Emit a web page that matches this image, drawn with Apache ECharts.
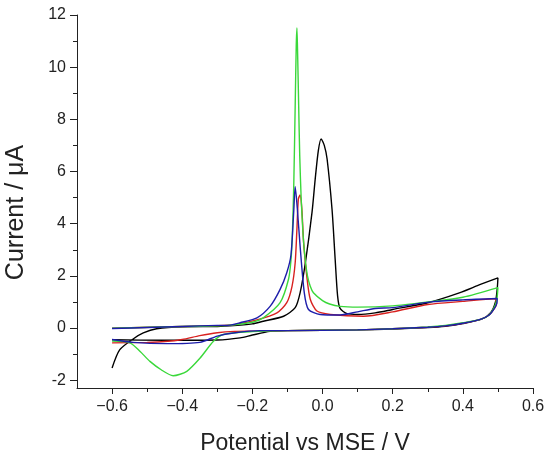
<!DOCTYPE html>
<html><head><meta charset="utf-8">
<script src="https://cdn.jsdelivr.net/npm/echarts@6/dist/echarts.min.js"></script>
<style>html,body{margin:0;padding:0;background:#fff}#c{width:554px;height:451px}</style>
</head><body><div id="c"></div>
<script>
const xMajorTicks=[-0.6,-0.4,-0.2,0.0,0.2,0.4,0.6];
const xMinorTicks=[-0.5,-0.3,-0.1,0.1,0.3,0.5];
const yMajorTicks=[-2,0,2,4,6,8,10,12];
const yMinorTicks=[-1,1,3,5,7,9,11];

const blackData=[[-0.6,-1.53],[-0.578,-0.83],[-0.54,-0.42],[-0.511,-0.19],[-0.473,-0.03],[-0.4,0.05],[-0.3,0.06],[-0.264,0.08],[-0.2,0.16],[-0.169,0.26],[-0.111,0.45],[-0.078,0.78],[-0.064,1.35],[-0.049,2.5],[-0.03,4.43],[-0.021,5.7],[-0.012,6.8],[-0.004,7.25],[0.005,7.0],[0.013,6.48],[0.027,4.56],[0.036,2.63],[0.043,1.22],[0.05,0.75],[0.07,0.55],[0.1,0.52],[0.15,0.58],[0.2,0.71],[0.3,0.97],[0.39,1.35],[0.45,1.67],[0.5,1.92],
[0.498,1.5],[0.493,1.0],[0.48,0.6],[0.455,0.35],[0.4,0.17],[0.35,0.07],[0.3,0.02],[0.2,-0.04],[0.1,-0.07],[-0.1,-0.1],[-0.15,-0.13],[-0.2,-0.27],[-0.235,-0.38],[-0.3,-0.46],[-0.45,-0.47],[-0.6,-0.45]];

const redData=[[-0.6,-0.01],[-0.4,0.06],[-0.3,0.09],[-0.25,0.13],[-0.187,0.31],[-0.13,0.58],[-0.102,0.97],[-0.087,1.6],[-0.078,2.5],[-0.073,3.8],[-0.069,4.94],[-0.064,5.1],[-0.059,4.56],[-0.054,3.28],[-0.045,2.0],[-0.035,1.1],[-0.016,0.65],[0.022,0.52],[0.117,0.45],[0.2,0.62],[0.3,0.9],[0.4,1.02],[0.49,1.12],
[0.496,0.95],[0.49,0.75],[0.475,0.5],[0.45,0.33],[0.4,0.18],[0.35,0.08],[0.3,0.03],[0.2,-0.03],[0.1,-0.07],[-0.1,-0.1],[-0.2,-0.12],[-0.25,-0.13],[-0.3,-0.18],[-0.35,-0.29],[-0.4,-0.44],[-0.45,-0.52],[-0.5,-0.55],[-0.6,-0.57]];

const greenData=[[-0.6,-0.01],[-0.4,0.06],[-0.3,0.08],[-0.263,0.11],[-0.2,0.22],[-0.169,0.39],[-0.121,0.97],[-0.097,1.87],[-0.09,2.6],[-0.086,3.6],[-0.082,5.5],[-0.078,8.5],[-0.075,10.8],[-0.073,11.5],[-0.071,10.5],[-0.068,8.5],[-0.065,6.6],[-0.061,5.0],[-0.056,3.7],[-0.05,2.7],[-0.043,2.0],[-0.035,1.6],[-0.026,1.35],[0.0,1.05],[0.02,0.92],[0.05,0.83],[0.1,0.8],[0.2,0.85],[0.3,1.0],[0.4,1.18],[0.5,1.55],
[0.497,1.1],[0.49,0.8],[0.475,0.5],[0.45,0.33],[0.4,0.2],[0.35,0.1],[0.3,0.04],[0.2,-0.03],[0.1,-0.07],[-0.1,-0.1],[-0.2,-0.14],[-0.283,-0.25],[-0.311,-0.51],[-0.349,-1.15],[-0.387,-1.66],[-0.426,-1.83],[-0.46,-1.6],[-0.492,-1.28],[-0.52,-0.9],[-0.549,-0.57],[-0.6,-0.5]];

const blueData=[[-0.6,-0.02],[-0.5,0.02],[-0.4,0.06],[-0.3,0.1],[-0.263,0.11],[-0.235,0.2],[-0.187,0.39],[-0.149,0.84],[-0.121,1.48],[-0.102,2.12],[-0.09,2.8],[-0.082,4.5],[-0.078,5.42],[-0.072,4.6],[-0.064,3.15],[-0.052,1.35],[-0.04,0.71],[-0.007,0.52],[0.05,0.5],[0.1,0.62],[0.15,0.75],[0.2,0.78],[0.308,1.0],[0.4,1.08],[0.498,1.13],
[0.497,0.95],[0.49,0.75],[0.475,0.5],[0.45,0.33],[0.4,0.18],[0.35,0.08],[0.3,0.03],[0.2,-0.03],[0.1,-0.07],[-0.1,-0.1],[-0.178,-0.1],[-0.254,-0.19],[-0.3,-0.31],[-0.35,-0.55],[-0.445,-0.6],[-0.54,-0.55],[-0.6,-0.44]];

const seriesNames=['black','red','green','blue'];
const seriesColors=['#000000','#d8211f','#3ad83a','#1d1daa'];
const seriesData=[blackData,redData,greenData,blueData];

const FONT='"Liberation Sans", Arial, sans-serif';
const axisColor='#222';
const chart=echarts.init(document.getElementById('c'),null,{renderer:'canvas'});
chart.setOption({
  animation:false,
  backgroundColor:'#fff',
  grid:{left:77,right:21,top:15,bottom:63,containLabel:false,outerBoundsMode:'none'},
  xAxis:[{
    type:'value',min:-0.7,max:0.6,position:'bottom',
    name:'Potential vs MSE / V',nameLocation:'middle',nameGap:44,
    nameTextStyle:{fontFamily:FONT,fontSize:23,color:axisColor},
    axisLine:{show:true,onZero:false,lineStyle:{color:axisColor,width:1}},
    axisTick:{show:true,inside:false,length:6,customValues:xMajorTicks,lineStyle:{color:axisColor}},
    axisLabel:{show:true,margin:11,customValues:xMajorTicks,fontFamily:FONT,fontSize:16,color:axisColor,
      formatter:v=>(v<0?'\u2212':'')+Math.abs(v).toFixed(1)},
    splitLine:{show:false}
  },{
    type:'value',min:-0.7,max:0.6,position:'bottom',
    axisLine:{show:false,onZero:false},
    axisTick:{show:true,inside:false,length:4,customValues:xMinorTicks,lineStyle:{color:axisColor}},
    axisLabel:{show:false},splitLine:{show:false}
  }],
  yAxis:[{
    type:'value',min:-2.3,max:12,position:'left',
    name:'Current / \u03bcA',nameLocation:'middle',nameGap:48,nameRotate:90,
    nameTextStyle:{fontFamily:FONT,fontSize:25,color:axisColor,padding:[0,22,0,0]},
    axisLine:{show:true,onZero:false,lineStyle:{color:axisColor,width:1}},
    axisTick:{show:true,inside:false,length:7,customValues:yMajorTicks,lineStyle:{color:axisColor}},
    axisLabel:{show:true,margin:11,customValues:yMajorTicks,fontFamily:FONT,fontSize:16,color:axisColor,
      formatter:v=>String(v)},
    splitLine:{show:false}
  },{
    type:'value',min:-2.3,max:12,position:'left',
    axisLine:{show:false,onZero:false},
    axisTick:{show:true,inside:false,length:4,customValues:yMinorTicks,lineStyle:{color:axisColor}},
    axisLabel:{show:false},splitLine:{show:false}
  }],
  series:seriesData.map((d,i)=>({
    name:seriesNames[i],type:'line',data:d,xAxisIndex:0,yAxisIndex:0,
    showSymbol:false,smooth:0.25,clip:true,
    lineStyle:{color:seriesColors[i],width:1.4},
    itemStyle:{color:seriesColors[i]},
    z:2+i
  }))
});
</script></body></html>
